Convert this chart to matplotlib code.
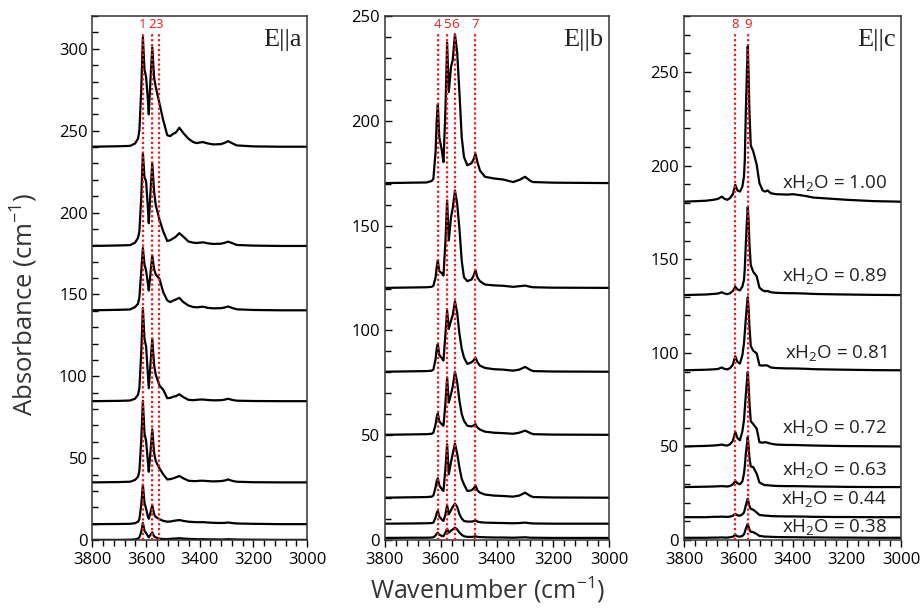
import numpy as np
import matplotlib
matplotlib.use("Agg")
import matplotlib.pyplot as plt
from matplotlib.ticker import MultipleLocator

plt.rcParams['font.family'] = ['Open Sans', 'DejaVu Sans']
plt.rcParams['mathtext.fontset'] = 'custom'
plt.rcParams['mathtext.rm'] = 'Open Sans'
plt.rcParams['mathtext.it'] = 'Open Sans'

# ---- panel E||a : wavenumber grid, baselines, spectra (height above baseline)
w1 = [3800, 3700, 3660, 3641, 3630, 3625, 3618, 3612, 3606, 3600, 3594, 3590, 3584,
      3577, 3570, 3564, 3550, 3536, 3521, 3510, 3498, 3490, 3476, 3461, 3442, 3424,
      3411, 3400, 3387, 3370, 3349, 3320, 3305, 3294, 3280, 3262, 3200, 3100, 3000]
offsets_a = [240.2, 179.6, 140.3, 84.8, 35.2, 9.7, 0.1]
spectra_a = [
    [0, 0.3, 0.5, 2, 5, 10, 35, 67, 47, 42.6, 30, 19.8, 40, 60.6, 42, 36.5, 26.3, 16.1, 7,
     6.5, 8, 8.5, 11.6, 8.3, 4.9, 2.8, 2.2, 2.6, 2.8, 2, 1.4, 1.6, 2.5, 3.4, 2.2, 0.8, 0.2, 0, 0],
    [0, 0.3, 0.5, 2, 5, 9, 30, 56.7, 42, 39.4, 25, 13.9, 32, 50.6, 33, 25, 16, 8.8, 3,
     3.5, 4.7, 5.5, 7.8, 5.7, 2.7, 2, 1.8, 2, 2.2, 1.6, 1.2, 1.4, 2, 2.6, 1.8, 0.6, 0.2, 0, 0],
    [0, 0.3, 0.5, 2, 4, 8, 24, 38, 28, 24.3, 17, 12.1, 22, 33.5, 25, 22, 19.2, 11, 6,
     5, 6, 6.5, 7.6, 5, 2.9, 2, 1.8, 2, 2.2, 1.5, 1.2, 1.3, 1.8, 2.3, 1.5, 0.6, 0.2, 0, 0],
    [0, 0.2, 0.4, 1.5, 4, 8, 30, 56.9, 38, 33.4, 18, 7.9, 22, 38.1, 22, 16.1, 9.6, 6.9, 1.8,
     2, 2.8, 3, 4.2, 2.5, 0.8, 0.6, 0.8, 1, 1, 0.7, 0.5, 0.6, 1, 1.5, 0.8, 0.3, 0.1, 0, 0],
    [0, 0.2, 0.4, 1.5, 3.5, 7, 26, 49.8, 30, 25.3, 14, 6.5, 18, 32.4, 18, 13, 8.6, 4.9, 1.8,
     2, 2.5, 3, 3.9, 2.5, 1, 0.8, 0.8, 1, 1, 0.8, 0.6, 0.8, 1.2, 1.8, 1, 0.4, 0.1, 0, 0],
    [0, 0.1, 0.2, 0.6, 1.5, 3, 12, 24.1, 13, 9.5, 5, 3.3, 7, 11.5, 6, 4.4, 3, 2, 1.5,
     1.6, 2, 2.2, 2.5, 2, 1.5, 1.3, 1.2, 1.2, 1.2, 1, 0.8, 0.7, 0.8, 1, 0.7, 0.4, 0.2, 0, 0],
    [0, 0, 0.1, 0.3, 0.8, 1.5, 5, 10.3, 5.5, 4.2, 2.5, 1.5, 3, 4.6, 2.2, 1.5, 0.7, 0.5, 0.5,
     0.6, 0.8, 0.8, 1, 0.8, 0.6, 0.5, 0.4, 0.4, 0.4, 0.3, 0.3, 0.2, 0.3, 0.4, 0.3, 0.2, 0.1, 0, 0],
]
lines_a = [3612, 3577, 3550]
labels_a = ["1", "2", "3"]

# ---- panel E||b
w2 = [3800, 3700, 3650, 3632, 3626, 3618, 3614, 3610, 3605, 3596, 3590, 3583, 3577,
      3571, 3563, 3557, 3549, 3541, 3533, 3525, 3517, 3505, 3490, 3482, 3476, 3469,
      3460, 3442, 3410, 3377, 3342, 3320, 3299, 3280, 3270, 3200, 3000]
offsets_b = [170.3, 120.3, 80.3, 50.2, 20.2, 7.8, 1.0]
spectra_b = [
    [0, 0.2, 0.3, 1, 2, 15, 30, 37.5, 22, 15.7, 10, 34.8, 67, 43.5, 55.5, 58.7, 71, 62, 43,
     22, 12.5, 8.5, 9.5, 11.5, 14, 10, 6, 3, 2.2, 1.7, 0.5, 1.5, 3, 1, 0.5, 0.2, 0],
    [0, 0.2, 0.3, 0.5, 1, 5, 10, 13.1, 8, 7, 5.9, 22, 41.7, 22.6, 33.8, 38, 46.5, 40, 28,
     13, 5.1, 3.2, 4, 6, 8.6, 5, 3.2, 1.6, 1.2, 1, 0.5, 0.8, 1.1, 0.5, 0.3, 0.1, 0],
    [0, 0.2, 0.3, 0.5, 1, 6, 11, 13.2, 8, 6.5, 5.3, 18, 29.2, 20.4, 24.4, 27, 33.6, 28, 18,
     11, 6.8, 3.7, 4.5, 5.5, 6.8, 4.5, 2.9, 1.8, 1.2, 1, 0.5, 1, 2.3, 0.8, 0.3, 0.1, 0],
    [0, 0.2, 0.3, 0.5, 1, 5, 8.5, 10.2, 6.5, 5, 4.3, 15, 27.4, 15.4, 19.4, 23, 30.1, 25, 16.2,
     10, 6.7, 4.3, 4, 4.5, 5.1, 3.5, 2.5, 1.5, 1, 0.8, 0.5, 1, 2, 0.8, 0.3, 0.1, 0],
    [0, 0.2, 0.3, 0.5, 1, 5, 8, 9.3, 6, 4, 3.2, 14, 25.5, 11.2, 17, 21, 25.8, 21, 14.4,
     9, 6.4, 3.2, 3.5, 4.5, 5.9, 3.5, 2.4, 1.5, 1, 0.8, 0.5, 1, 2.4, 0.8, 0.3, 0.1, 0],
    [0, 0.1, 0.2, 0.3, 0.5, 3, 5, 6.1, 3.5, 2, 1.3, 4.5, 8.8, 4.5, 6.5, 8, 9.6, 8, 4.5,
     2.5, 1.3, 1, 1, 1.2, 1.6, 1, 0.7, 0.5, 0.4, 0.3, 0.2, 0.3, 0.5, 0.2, 0.1, 0, 0],
    [0, 0.1, 0.1, 0.2, 0.3, 1.2, 2, 2.5, 1.5, 1, 0.8, 2.5, 4.4, 2.5, 3.5, 4, 4.9, 4, 2.5,
     1.5, 0.8, 0.5, 0.5, 0.6, 0.8, 0.5, 0.4, 0.3, 0.2, 0.2, 0.1, 0.2, 0.3, 0.1, 0.1, 0, 0],
]
lines_b = [3610, 3577, 3550, 3476]
labels_b = ["4", "5", "6", "7"]

# ---- panel E||c
w3 = [3800, 3720, 3692, 3675, 3661, 3650, 3640, 3630, 3620, 3611, 3603, 3594, 3585,
      3579, 3576, 3572, 3568, 3565, 3562, 3559, 3554, 3545, 3532, 3522, 3510, 3501,
      3492, 3480, 3460, 3420, 3397, 3350, 3323, 3250, 3200, 3100, 3000]
offsets_c = [180.8, 130.9, 90.7, 50.0, 28.3, 12.2, 1.2]
spectra_c = [
    [0, 0.5, 1, 1.5, 2.7, 1.5, 1, 2, 4, 9, 6, 5.4, 8, 13.4, 22, 49, 70, 83, 68, 49, 30, 27,
     19.7, 9.9, 6, 5.4, 6, 4.5, 4, 3.8, 4, 3, 2.2, 1.5, 1, 0.3, 0],
    [0, 0.3, 0.6, 0.8, 1.5, 0.8, 0.5, 1, 2.2, 4.4, 3, 2.5, 4.5, 8, 14, 28, 40, 47, 40, 28, 16,
     12.5, 10, 4, 2.5, 2, 2.2, 1.5, 1.2, 1, 1, 0.8, 0.6, 0.4, 0.3, 0.1, 0],
    [0, 0.3, 0.5, 0.7, 1.5, 0.7, 0.5, 1.2, 3, 7.5, 4.5, 3.6, 8, 14.3, 20, 28, 35, 39, 33, 24,
     13, 10.5, 9, 2.7, 2.5, 2.7, 2.5, 1.5, 1.2, 1, 1, 0.8, 0.6, 0.4, 0.3, 0.1, 0],
    [0, 0.3, 0.5, 0.7, 1, 0.6, 0.5, 1.2, 3, 7.7, 4.5, 3.3, 8, 14, 20, 28, 35, 39.8, 33, 24,
     13.5, 12, 9.5, 2.3, 2, 2.3, 2, 1.5, 1, 0.8, 0.8, 0.6, 0.5, 0.3, 0.2, 0.1, 0],
    [0, 0.2, 0.3, 0.4, 0.5, 0.4, 0.3, 0.6, 1.5, 3.2, 2, 1.5, 3, 7.1, 11, 18, 23, 26.7, 22, 16,
     11, 10.7, 7.1, 2.5, 1.5, 1, 1, 0.8, 0.6, 0.5, 0.5, 0.4, 0.3, 0.2, 0.1, 0, 0],
    [0, 0, 0.2, 0.2, 0.3, 0.2, 0.2, 0.3, 0.8, 1.8, 1, 0.8, 1.5, 2.5, 4, 6.5, 8.5, 9.9, 8, 6,
     4.5, 4, 2.5, 1.2, 1, 0.8, 0.8, 0.6, 0.5, 0.4, 0.4, 0.3, 0.2, 0.1, 0.1, 0, 0],
    [0, 0, 0.1, 0.1, 0.2, 0.1, 0.1, 0.3, 0.6, 1.5, 0.8, 0.6, 1, 1.8, 3, 5, 6.5, 7.5, 6, 4.5,
     3.2, 3, 2, 1, 0.8, 0.6, 0.6, 0.5, 0.4, 0.3, 0.3, 0.2, 0.2, 0.1, 0.1, 0, 0],
]
lines_c = [3611, 3565]
labels_c = ["8", "9"]
xh2o_labels = ["1.00", "0.89", "0.81", "0.72", "0.63", "0.44", "0.38"]
xh2o_y = [191, 141, 100, 60, 37.5, 22, 7]

fig = plt.figure(figsize=(9.21, 6.08), dpi=100)
ax1 = fig.add_axes([0.1004, 0.1118, 0.2329, 0.8618])
ax2 = fig.add_axes([0.4175, 0.1118, 0.2438, 0.8618])
ax3 = fig.add_axes([0.7427, 0.1118, 0.2356, 0.8618])

panels = [
    (ax1, w1, offsets_a, spectra_a, lines_a, labels_a, "E||a", 320),
    (ax2, w2, offsets_b, spectra_b, lines_b, labels_b, "E||b", 250),
    (ax3, w3, offsets_c, spectra_c, lines_c, labels_c, "E||c", 280),
]

for ax, w, offs, specs, lns, lbls, title, ytop in panels:
    for off, s in zip(offs, specs):
        ax.plot(w, np.array(s) + off, color='black', lw=1.6, zorder=2)
    for x, lab in zip(lns, lbls):
        ax.axvline(x, ymin=0, ymax=0.968, color='#f01818', ls=(0, (1, 1.2)), lw=1.6, zorder=3)
        ax.text(x, 0.983, lab, transform=ax.get_xaxis_transform(), ha='center', va='center',
                color='#f01818', fontsize=9.5)
    ax.text(0.975, 0.955, title, transform=ax.transAxes, ha='right', va='center',
            fontsize=19, family='Liberation Serif', color='#222222')
    ax.set_xlim(3800, 3000)
    ax.set_ylim(0, ytop)
    ax.xaxis.set_major_locator(MultipleLocator(200))
    ax.xaxis.set_minor_locator(MultipleLocator(40))
    ax.yaxis.set_major_locator(MultipleLocator(50))
    ax.yaxis.set_minor_locator(MultipleLocator(10))
    ax.tick_params(axis='x', which='both', direction='out', labelsize=12)
    ax.tick_params(axis='y', which='both', direction='in', labelsize=12)
    ax.tick_params(which='major', length=5, width=1)
    ax.tick_params(which='minor', length=4, width=1)
    for sp in ax.spines.values():
        sp.set_linewidth(1.1)
        sp.set_color('#333333')

for lab, y in zip(xh2o_labels, xh2o_y):
    ax3.text(0.935, y, 'xH$_2$O = ' + lab, transform=ax3.get_yaxis_transform(),
             ha='right', va='center', fontsize=13.5, color='#222222')

fig.text(0.027, 0.5, 'Absorbance (cm$^{-1}$)', rotation=90, ha='center', va='center',
         fontsize=18.5, color='#333333')
fig.text(0.53, 0.03, 'Wavenumber (cm$^{-1}$)', ha='center', va='center',
         fontsize=18, color='#333333')

fig.savefig('out.png', dpi=100)
